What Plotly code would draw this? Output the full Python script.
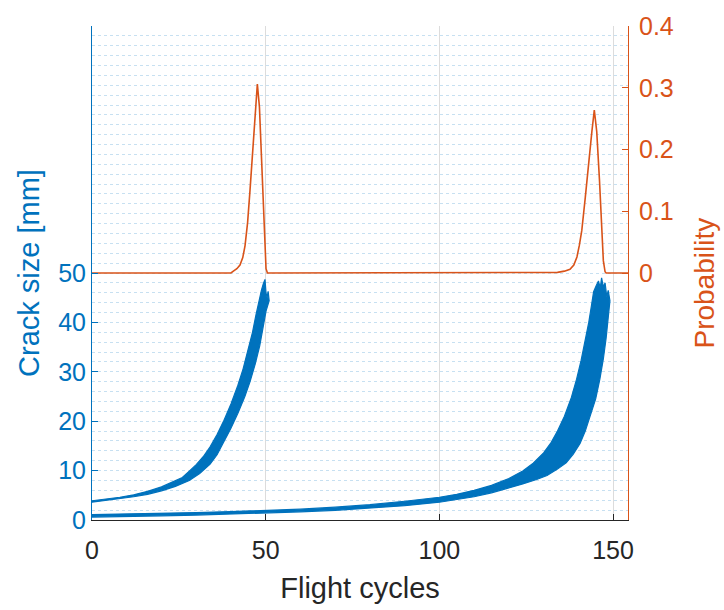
import plotly.graph_objects as go

# ---- data ----
# Bundle 1 (fast crack growth) envelope, cycles vs crack size [mm]
b1_upper_x = [0, 4, 8, 12, 16, 20, 23, 26, 28, 30, 32, 34, 36, 38, 40, 42, 43.5, 45, 46.2, 47.2, 48.1, 48.8]
b1_upper_y = [3.9, 4.2, 4.6, 5.1, 5.8, 6.7, 7.6, 8.6, 9.9, 11.2, 12.8, 14.8, 17.3, 20.2, 23.5, 27.3, 30.6,
              34.5, 38.0, 41.5, 44.8, 46.6]
b1_tips_x = [49.3, 49.8, 50.1, 50.4, 50.7]
b1_tips_y = [47.8, 48.7, 46.0, 45.0, 46.3]
b1_lower_x = [0, 4, 8, 12, 16, 20, 24, 28, 31, 34, 36, 38, 40, 42, 44, 45.5, 47, 48.3, 49.3, 50.1, 51.0]
b1_lower_y = [3.6, 3.9, 4.3, 4.7, 5.2, 5.9, 6.8, 8.0, 9.4, 11.3, 13.2, 15.8, 18.6, 21.6, 25.0, 28.0, 31.6,
              35.3, 39.0, 42.3, 44.4]

# Bundle 2 (slow crack growth) envelope
b2_upper_x = [0, 10, 20, 30, 40, 50, 60, 70, 80, 90, 100, 105, 110, 115, 120, 124, 127, 130, 132, 134, 136,
              138, 139.5, 140.8, 142, 143, 143.8, 144.4]
b2_upper_y = [1.1, 1.2, 1.35, 1.5, 1.7, 1.9, 2.2, 2.6, 3.1, 3.8, 4.6, 5.2, 6.0, 7.0, 8.4, 9.9, 11.5, 13.6,
              15.5, 18.0, 21.0, 24.8, 28.5, 32.3, 36.3, 40.0, 43.5, 46.2]
b2_tips_x = [145.2, 145.8, 146.3, 146.7, 147.2, 147.7, 148.2, 148.6]
b2_tips_y = [47.5, 48.4, 47.0, 49.0, 47.2, 48.0, 45.2, 46.5]
b2_lower_x = [0, 10, 20, 30, 40, 50, 60, 70, 80, 90, 100, 105, 110, 115, 120, 124, 128, 131, 134, 136.5,
              138.5, 140.5, 142, 143.5, 145, 146.2, 147.2, 148, 148.6, 149.1]
b2_lower_y = [0.6, 0.7, 0.85, 1.0, 1.2, 1.4, 1.65, 1.95, 2.4, 2.9, 3.6, 4.1, 4.7, 5.5, 6.5, 7.3, 8.2, 9.0,
              10.3, 11.6, 13.3, 15.5, 18.0, 21.0, 24.5, 28.5, 32.6, 36.8, 40.5, 44.4]

# Probability of failure vs flight cycles
prob_x = [0, 40.0, 40.7, 41.7, 42.6, 43.4, 44.05, 44.8, 45.5, 46.2, 46.9, 47.6, 48.2, 48.9, 49.5, 50.1, 50.5,
          131, 134, 136, 137.6, 138.7, 139.6, 140.3, 141.0, 142.0, 142.9, 143.9, 144.6, 145.3, 146.1, 146.7,
          147.2, 147.7, 148, 154.3]
prob_y = [0, 0, 0.003, 0.007, 0.013, 0.025, 0.044, 0.082, 0.135, 0.189, 0.253, 0.306, 0.269, 0.162, 0.066, 0.007, 0,
          0, 0.001, 0.003, 0.006, 0.013, 0.026, 0.045, 0.069, 0.122, 0.176, 0.229, 0.264, 0.229, 0.149, 0.069,
          0.020, 0.002, 0, 0]

x_ticks = [0, 50, 100, 150]
left_ticks = [0, 10, 20, 30, 40, 50]
right_ticks = [0, 0.1, 0.2, 0.3, 0.4]
right_ticktext = ["0", "0.1", "0.2", "0.3", "0.4"]

BLUE = "#0072BD"
ORANGE = "#D95319"
DARK = "#262626"
FONT = "Liberation Sans, Arial, sans-serif"
TICK = 25
LABEL = 29


def polygon(ux, uy, tx, ty, lx, ly):
    return ux + tx + lx[::-1], uy + ty + ly[::-1]


fig = go.Figure()
for ux, uy, tx, ty, lx, ly in [
    (b1_upper_x, b1_upper_y, b1_tips_x, b1_tips_y, b1_lower_x, b1_lower_y),
    (b2_upper_x, b2_upper_y, b2_tips_x, b2_tips_y, b2_lower_x, b2_lower_y),
]:
    px, py = polygon(ux, uy, tx, ty, lx, ly)
    fig.add_trace(go.Scatter(x=px, y=py, mode="lines", fill="toself",
                             fillcolor=BLUE, line=dict(color=BLUE, width=1.2),
                             showlegend=False, hoverinfo="skip"))

fig.add_trace(go.Scatter(x=prob_x, y=prob_y, yaxis="y2", mode="lines",
                         line=dict(color=ORANGE, width=1.6), showlegend=False))

fig.update_layout(
    width=724, height=610,
    margin=dict(l=92, r=96, t=22, b=89),
    plot_bgcolor="white", paper_bgcolor="white",
    font=dict(family=FONT, size=TICK, color=DARK),
    xaxis=dict(range=[0, 154.3], tickvals=x_ticks, ticks="inside", ticklen=6,
               tickcolor=DARK, showline=True, linecolor=DARK, linewidth=1,
               showgrid=True, gridcolor="#dcdcdc", gridwidth=1, zeroline=False,
               ticklabelstandoff=8,
               title=dict(text="Flight cycles", font=dict(size=LABEL, color=DARK), standoff=14),
               tickfont=dict(size=TICK, color=DARK)),
    yaxis=dict(range=[0, 100], tickvals=left_ticks, ticks="inside", ticklen=6,
               tickcolor=BLUE, showline=True, linecolor=BLUE, linewidth=1,
               showgrid=False, zeroline=False,
               tickfont=dict(size=TICK, color=BLUE),
               title=dict(text="Crack size [mm]", font=dict(size=LABEL, color=BLUE), standoff=10)),
    yaxis3=dict(range=[0, 100], dtick=2, overlaying="y", showticklabels=False, ticks="",
                showline=False, zeroline=False, showgrid=True,
                gridcolor="rgba(0,114,189,0.22)", griddash="dot", gridwidth=1),
    yaxis2=dict(range=[-0.4, 0.4], overlaying="y", side="right", anchor="x",
                tickvals=right_ticks, ticktext=right_ticktext, ticks="inside", ticklen=6,
                tickcolor=ORANGE, showline=True, linecolor=ORANGE, linewidth=1,
                showgrid=False, zeroline=False, ticklabelstandoff=5,
                tickfont=dict(size=TICK, color=ORANGE)),
    annotations=[dict(text="Probability", xref="paper", yref="paper", x=1.143, y=0.48,
                      xanchor="center", yanchor="middle", textangle=-90, showarrow=False,
                      font=dict(size=28, color=ORANGE, family=FONT))],
)
fig.add_trace(go.Scatter(x=[None], y=[None], yaxis="y3", showlegend=False))

fig.write_html("out.html")
